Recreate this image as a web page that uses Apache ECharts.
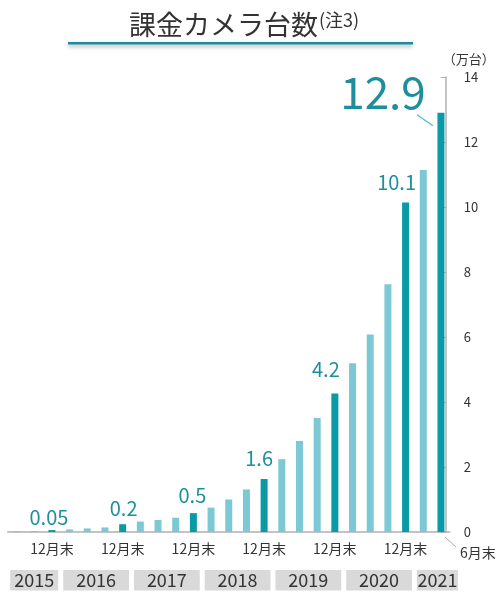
<!DOCTYPE html>
<html>
<head>
<meta charset="utf-8">
<title>課金カメラ台数</title>
<script src="https://cdn.jsdelivr.net/npm/echarts@6/dist/echarts.min.js"></script>
<style>
  html, body { margin: 0; padding: 0; background: #fff; }
  #chart { width: 504px; height: 593px; }
</style>
</head>
<body>
<div id="chart"></div>
<script>
// quarter ends, 2015/6 .. 2021/6
var quarters = ['2015/6', '2015/9', '2015/12',
  '2016/3', '2016/6', '2016/9', '2016/12',
  '2017/3', '2017/6', '2017/9', '2017/12',
  '2018/3', '2018/6', '2018/9', '2018/12',
  '2019/3', '2019/6', '2019/9', '2019/12',
  '2020/3', '2020/6', '2020/9', '2020/12',
  '2021/3', '2021/6'];
// cameras, 万台
var cameras = [0.02, 0.03, 0.06,
  0.08, 0.11, 0.14, 0.24,
  0.32, 0.37, 0.44, 0.58,
  0.75, 1.0, 1.31, 1.63,
  2.24, 2.8, 3.51, 4.26,
  5.19, 6.08, 7.62, 10.14,
  11.14, 12.9];
var valueLabels = ['', '', '0.05',
  '', '', '', '0.2',
  '', '', '', '0.5',
  '', '', '', '1.6',
  '', '', '', '4.2',
  '', '', '', '10.1',
  '', '12.9'];
var tickLabels = ['', '', '12月末',
  '', '', '', '12月末',
  '', '', '', '12月末',
  '', '', '', '12月末',
  '', '', '', '12月末',
  '', '', '', '12月末',
  '', '6月末'];
var years = ['2015', '2016', '2017', '2018', '2019', '2020', '2021'];
var yearQuarters = [3, 4, 4, 4, 4, 4, 2.6];

var FONT = 'Noto Sans CJK JP';
var DARK = '#0a9aa6';
var LIGHT = '#7cc8d4';
var LABEL = '#1f8e9c';
var TEXT = '#333';
var last = cameras.length - 1;

// nudges for the value labels
var labelShift = { 2: [-3, 2], 6: [1, -1], 10: [-1, -3], 14: [-5, -6], 18: [-9, -9], 22: [-9, -5], 24: [-58, 7] };

var barData = cameras.map(function (v, i) {
  var hot = valueLabels[i] !== '';
  var item = { value: v, itemStyle: { color: hot ? DARK : LIGHT } };
  if (hot) {
    item.label = {
      show: true,
      position: 'top',
      distance: 5,
      formatter: valueLabels[i],
      fontSize: i === last ? 44 : 20,
      offset: labelShift[i] || [0, 0]
    };
  }
  return item;
});

var unitsTotal = yearQuarters.reduce(function (a, b) { return a + b; }, 0);
var slot = (449.8 - 7.7) / quarters.length;

var yearSeries = years.map(function (y, i) {
  return {
    type: 'bar',
    xAxisIndex: 1,
    yAxisIndex: 1,
    stack: 'years',
    barWidth: '100%',
    silent: true,
    data: [yearQuarters[i]],
    itemStyle: { color: '#d9d9d9', borderColor: '#fff', borderWidth: 2.5 },
    label: {
      show: true,
      position: 'inside',
      formatter: y,
      fontFamily: FONT,
      fontSize: 18,
      color: TEXT
    }
  };
});

var chart = echarts.init(document.getElementById('chart'));

chart.setOption({
  animation: false,
  textStyle: { fontFamily: FONT },
  title: {
    text: '{a|課金カメラ台数}{b|(注3)}',
    left: 124,
    top: 6,
    textStyle: {
      fontWeight: 'normal',
      rich: {
        a: { fontFamily: FONT, fontSize: 27, fontWeight: 'normal', color: TEXT },
        b: { fontFamily: FONT, fontSize: 18, fontWeight: 'normal', color: TEXT, verticalAlign: 'top', padding: [0, 0, 10, 1] }
      }
    }
  },
  grid: [
    { left: 7.7, right: 504 - 449.8, top: 77, bottom: 61 },
    { left: 7.7, width: slot * unitsTotal, top: 567.5, height: 28 }
  ],
  xAxis: [{
    type: 'category',
    data: quarters,
    boundaryGap: true,
    axisLine: { lineStyle: { color: '#b0b0b0', width: 1.5 } },
    axisTick: { show: false },
    axisLabel: {
      interval: 0,
      margin: 10,
      fontSize: 14,
      color: TEXT,
      formatter: function (v, i) {
        if (i === last) return '{s|' + tickLabels[i] + '}';
        return tickLabels[i];
      },
      rich: { s: { fontSize: 14, color: TEXT, padding: [4, 0, 0, 74] } }
    }
  }, {
    type: 'value',
    gridIndex: 1,
    min: 0,
    max: unitsTotal,
    show: false
  }],
  yAxis: [{
    type: 'value',
    position: 'right',
    offset: -4,
    min: 0,
    max: 14,
    interval: 2,
    name: '（万台）',
    nameLocation: 'end',
    nameGap: 11,
    nameTextStyle: { fontSize: 13, color: TEXT, align: 'center', padding: [0, 0, 0, 46] },
    axisLine: { show: true, lineStyle: { color: '#b0b0b0', width: 1.5 } },
    axisTick: { show: true, inside: true, length: 5, lineStyle: { color: '#b0b0b0' } },
    splitLine: { show: false },
    axisLabel: { margin: 18, fontSize: 13, color: TEXT }
  }, {
    type: 'category',
    gridIndex: 1,
    data: [''],
    show: false
  }],
  series: [{
    type: 'bar',
    barWidth: 7,
    data: barData,
    label: { color: LABEL, fontFamily: FONT },
    z: 3
  }].concat(yearSeries)
});

// decorations: title underline and the two leader lines
var peakPx = chart.convertToPixel({ seriesIndex: 0 }, [last, cameras[last]]);
var basePx = chart.convertToPixel({ seriesIndex: 0 }, [last, 0]);
chart.setOption({
  graphic: [{
    type: 'rect',
    shape: { x: 68, y: 42, width: 345, height: 2.5 },
    style: { fill: '#1c8c9c', shadowBlur: 4, shadowColor: 'rgba(0,0,0,0.35)', shadowOffsetY: 2 }
  }, {
    type: 'line',
    shape: { x1: peakPx[0] - 24, y1: peakPx[1] + 2, x2: peakPx[0] - 8, y2: peakPx[1] + 13 },
    style: { stroke: '#5dbac7', lineWidth: 1.5 },
    z: 100
  }, {
    type: 'line',
    shape: { x1: basePx[0] + 4, y1: basePx[1] + 5, x2: basePx[0] + 15, y2: basePx[1] + 15 },
    style: { stroke: '#aaa', lineWidth: 1 }
  }]
});
</script>
</body>
</html>
